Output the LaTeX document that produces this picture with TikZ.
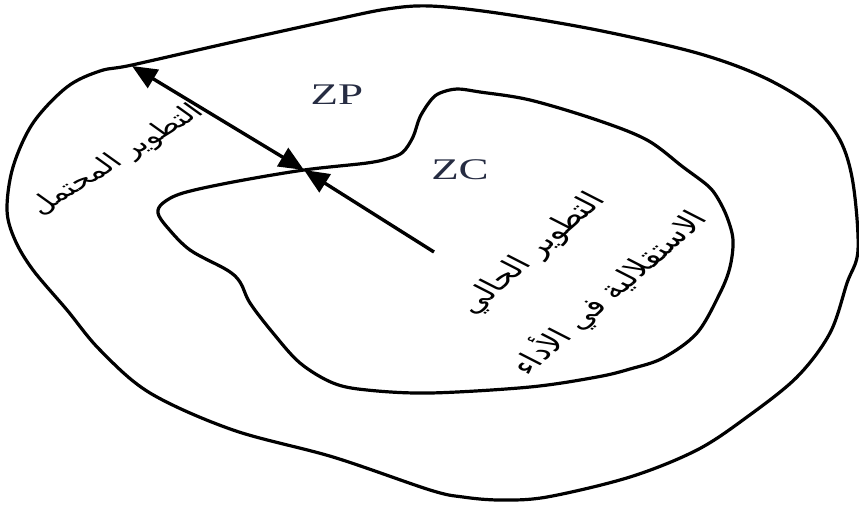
\documentclass[tikz,border=0pt]{standalone}
\usepackage{fontspec}
\setmainfont{Liberation Serif}
\newfontfamily\arabicfont[Script=Arabic]{DejaVu Sans}
\TeXXeTstate=1
\usetikzlibrary{arrows.meta}
\definecolor{zoneink}{RGB}{38,44,66}
\tikzset{
  pointe/.tip={Triangle[length=25pt,width=21pt]},
  contour/.style={line width=3.2pt, line join=round},
  fleche/.style={line width=3.4pt},
  zone/.style={text=zoneink, font=\fontsize{30}{36}\selectfont, xscale=1.5},
  legende/.style={font=\arabicfont\fontsize{22}{65}\selectfont, align=center, xscale=1.5}
}
\begin{document}
\begin{tikzpicture}[x=1pt, y=-1pt]
\useasboundingbox (0,0) rectangle (859,507);

% Contours
\draw[contour] plot[smooth cycle, tension=0.55] coordinates {
  (7,210) (13,167) (33,123) (67,87) (100,71) (132,65) (233,42) (333,20)
  (387,9) (430,6) (497,13) (597,30) (697,53) (763,77) (813,107) (840,140)
  (853,183) (858,250) (847,283) (830,333) (797,377) (747,417) (697,450)
  (630,477) (547,497) (500,500) (463,497) (430,490) (333,457) (233,430)
  (150,393) (100,350) (67,310) (33,270) (15,240)};
\draw[contour] plot[smooth cycle, tension=0.55] coordinates {
  (304,170) (233,182) (183,193) (163,203) (158,213) (167,227) (190,250)
  (227,270) (240,282) (250,303) (273,333) (300,363) (333,383) (367,390)
  (430,393) (530,387) (597,377) (630,369) (663,358) (697,333) (720,293)
  (730,267) (733,240) (727,217) (717,197) (707,185) (683,167) (647,140)
  (597,120) (530,100) (480,92) (457,89) (440,93) (431,100) (420,117)
  (413,137) (403,152) (390,158) (367,163)};

% Fleches
\coordinate (bord) at (132,66);
\coordinate (jonction) at (304,170);
\coordinate (centre) at (434,252);
\draw[fleche, pointe-pointe] (bord) -- (jonction);
\draw[fleche, -pointe] (centre) -- (jonction);

% Textes
\node[zone] (zp) at (337,95) {ZP};
\node[zone] (zc) at (460,170) {ZC};
\node[legende, rotate=43] (potentiel) at (117,160) {\beginR التطوير المحتمل\endR};
\node[legende, rotate=52.5, font=\arabicfont\fontsize{24}{66}\selectfont] (actuel) at (572,274)
  {\beginR التطوير الحالي\endR\\\beginR الاستقلالية في الأداء\endR};

\end{tikzpicture}
\end{document}
